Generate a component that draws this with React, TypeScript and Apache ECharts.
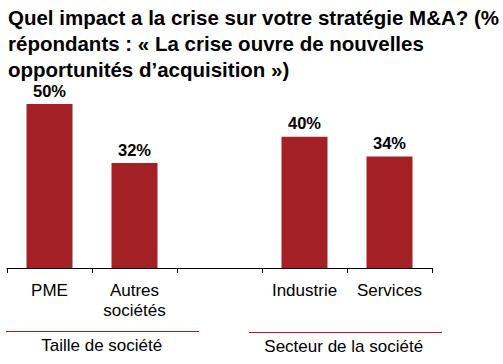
import React, { useEffect, useRef } from "react";
import * as echarts from "echarts";

const titleLines = [
  "Quel impact a la crise sur votre stratégie M&A? (%",
  "répondants : « La crise ouvre de nouvelles",
  "opportunités d’acquisition »)",
];
const categories = ["PME", "Autres\nsociétés", "", "Industrie", "Services"];
const values: (number | null)[] = [50, 32, null, 40, 34];
const groupLabels = ["Taille de société", "Secteur de la société"];

const RED = "#A32024";
const FONT = "'Liberation Sans', Arial, sans-serif";

export default function App() {
  const ref = useRef<HTMLDivElement>(null);
  useEffect(() => {
    if (!ref.current) return;
    const chart = echarts.init(ref.current, null, { renderer: "svg" });
    chart.setOption({
      animation: false,
      title: {
        text: titleLines.join("\n"),
        left: 8,
        top: 4,
        padding: 0,
        textStyle: {
          fontFamily: FONT,
          fontSize: 20.5,
          fontWeight: "bold",
          color: "#000",
          lineHeight: 26,
        },
      },
      grid: { left: 7, right: 71, top: 71.2, bottom: 96, containLabel: false },
      xAxis: {
        type: "category",
        data: categories,
        axisLine: { lineStyle: { color: "#000", width: 1 } },
        axisTick: { show: true, length: 5, lineStyle: { color: "#000" } },
        axisLabel: {
          interval: 0,
          margin: 12,
          fontFamily: FONT,
          fontSize: 17,
          lineHeight: 20,
          color: "#000",
        },
      },
      yAxis: {
        type: "value",
        min: 0,
        max: 60,
        show: false,
        splitLine: { show: false },
      },
      series: [
        {
          type: "bar",
          data: values,
          barWidth: 46,
          itemStyle: { color: RED },
          label: {
            show: true,
            position: "top",
            distance: 5,
            formatter: "{c}%",
            fontFamily: FONT,
            fontSize: 16.5,
            fontWeight: "bold",
            color: "#000",
          },
        },
      ],
      graphic: [
        {
          type: "line",
          shape: { x1: 6, y1: 331.5, x2: 199, y2: 331.5 },
          style: { stroke: RED, lineWidth: 1 },
        },
        {
          type: "line",
          shape: { x1: 249, y1: 332.5, x2: 442, y2: 332.5 },
          style: { stroke: RED, lineWidth: 1 },
        },
        {
          type: "text",
          x: 101.7,
          y: 345.7,
          style: {
            text: groupLabels[0],
            fontFamily: FONT,
            fontSize: 17,
            fill: "#000",
            align: "center",
            verticalAlign: "middle",
          },
        },
        {
          type: "text",
          x: 343.7,
          y: 346.7,
          style: {
            text: groupLabels[1],
            fontFamily: FONT,
            fontSize: 17,
            fill: "#000",
            align: "center",
            verticalAlign: "middle",
          },
        },
      ],
    });
    return () => chart.dispose();
  }, []);
  return <div ref={ref} style={{ width: 503, height: 364, position: "absolute", left: 0, top: 0 }} />;
}
